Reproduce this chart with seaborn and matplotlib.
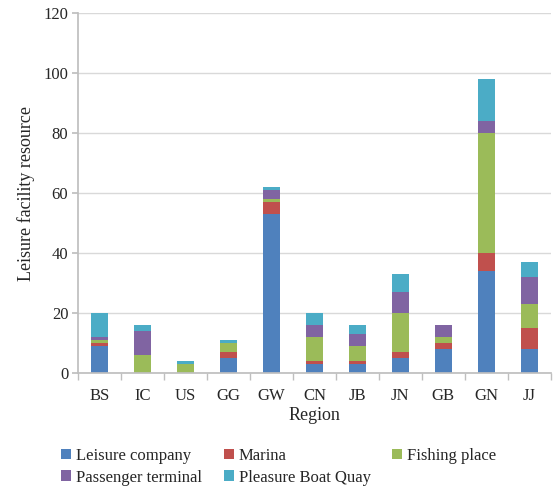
import matplotlib
matplotlib.use("Agg")
import matplotlib.pyplot as plt
import seaborn as sns
import pandas as pd
import numpy as np
from matplotlib.patches import Patch

regions = ["BS", "IC", "US", "GG", "GW", "CN", "JB", "JN", "GB", "GN", "JJ"]
leisure_company = [9, 0, 0, 5, 53, 3, 3, 5, 8, 34, 8]
marina = [1, 0, 0, 2, 4, 1, 1, 2, 2, 6, 7]
fishing_place = [1, 6, 3, 3, 1, 8, 5, 13, 2, 40, 8]
passenger_terminal = [1, 8, 0, 0, 3, 4, 4, 7, 4, 4, 9]
pleasure_boat_quay = [8, 2, 1, 1, 1, 4, 3, 6, 0, 14, 5]

series = ["Leisure company", "Marina", "Fishing place", "Passenger terminal", "Pleasure Boat Quay"]
values = [leisure_company, marina, fishing_place, passenger_terminal, pleasure_boat_quay]
colors = ["#4F81BD", "#C0504D", "#9BBB59", "#8064A2", "#4BACC6"]

sns.set_theme(style="white")
plt.rcParams["font.family"] = ["Liberation Serif", "DejaVu Serif"]

fig = plt.figure(figsize=(5.53, 4.88), dpi=100)
ax = fig.add_axes([0.141, 0.236, 0.855, 0.737])

bottom = np.zeros(len(regions))
for name, vals, col in zip(series, values, colors):
    df = pd.DataFrame({"Region": regions, "Value": vals})
    sns.barplot(data=df, x="Region", y="Value", color=col, bottom=bottom,
                width=0.4, ax=ax, saturation=1, order=regions, linewidth=0)
    bottom = bottom + np.array(vals)

ax.set_ylim(0, 120)
ax.set_yticks(range(0, 121, 20))
ax.set_xlim(-0.5, len(regions) - 0.5)
ax.yaxis.grid(True, color="#D9D9D9", linewidth=1)
ax.set_axisbelow(True)
for s in ["top", "right"]:
    ax.spines[s].set_visible(False)
ax.spines["left"].set_color("#BFBFBF")
ax.spines["bottom"].set_color("#BFBFBF")
ax.tick_params(axis="y", which="major", left=True, length=4, color="#BFBFBF", labelsize=12, pad=3)
ax.tick_params(axis="x", which="major", bottom=False, labelsize=12, pad=5)
ax.set_xticks(np.arange(-0.5, len(regions), 1.0), minor=True)
ax.tick_params(axis="x", which="minor", bottom=True, length=5, color="#BFBFBF")
ax.set_xlabel("Region", fontsize=13, labelpad=2)
ax.set_ylabel("Leisure facility resource", fontsize=13, labelpad=6)

handles = [Patch(facecolor=c, edgecolor="none") for c in colors]
order = [0, 3, 1, 4, 2]
fig.legend([handles[i] for i in order], [series[i] for i in order],
           loc="lower left", bbox_to_anchor=(0.095, -0.012), ncol=3, frameon=False,
           prop={"family": ["Liberation Serif", "DejaVu Serif"], "size": 12},
           handlelength=0.6, handleheight=0.6, handletextpad=0.3,
           columnspacing=1.3, labelspacing=0.35, borderpad=0.0)

fig.savefig("out.png", dpi=100)
